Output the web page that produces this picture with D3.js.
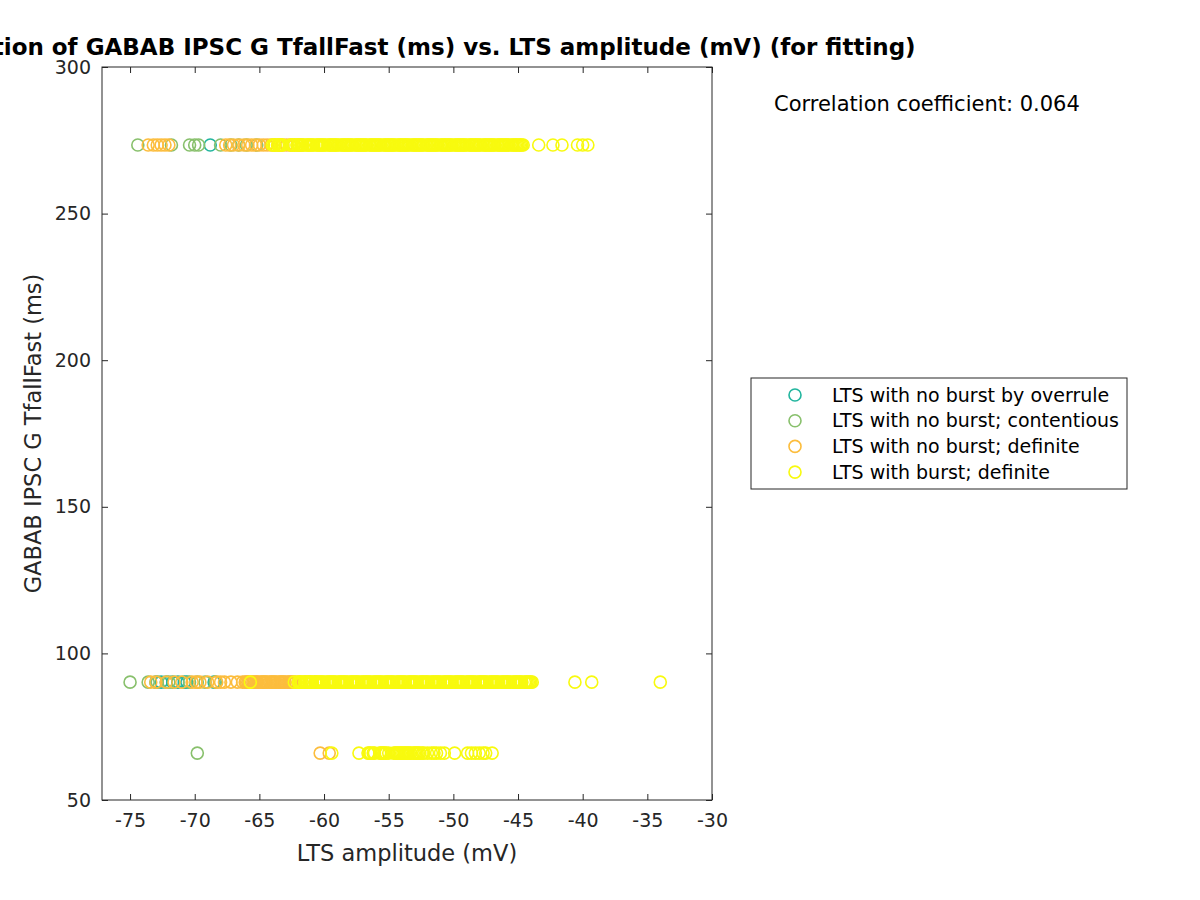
<!DOCTYPE html>
<html><head><meta charset="utf-8">
<script src="https://cdn.jsdelivr.net/npm/d3@7"></script>
<style>body{margin:0;background:#fff;} svg{display:block;font-family:"DejaVu Sans",sans-serif;}</style>
</head><body><svg id="c" width="1200" height="900"></svg>
<script>
// ---- data ----
const seriesNames = ["LTS with no burst by overrule","LTS with no burst; contentious","LTS with no burst; definite","LTS with burst; definite"];
const seriesColors = ["#22b59e","#88c06c","#fcbd3d","#f8fa0e"];
const rowValues = [273.4, 90.2, 66.0];
const xTicks = [-75,-70,-65,-60,-55,-50,-45,-40,-35,-30];
const yTicks = [50,100,150,200,250,300];

// overrule
const overruleX273 = [-68.8];
const overruleX90 = [-73.0,-72.6,-72.2,-71.7,-71.3,-70.8,-70.6,-68.5];
const overruleX66 = [];
// contentious
const contentX273 = [-74.4,-71.8,-70.4,-70.0,-69.7,-68.0,-67.2,-66.6,-66.0,-65.2];
const contentX90 = [-75.0,-73.6,-72.9,-72.0,-70.4,-69.8,-69.2,-68.4];
const contentX66 = [-69.8];
// definite no burst
const definiteX273 = [-73.6,-73.2,-72.9,-72.6,-72.3,-72.0,-67.6,-67.3,-67.0,-66.6,-66.2,-65.9,-65.6,-65.3,-65.0,-64.7,-64.4,-64.1,-63.8,-63.5,-63.2,-62.9,-62.6,-62.3,-62.0,-61.7];
const definiteX90 = [-73.4,-73.0,-72.2,-71.6,-71.0,-70.2,-69.9,-69.6,-69.0,-68.3,-68.0,-67.7,-67.2,-66.7,-66.3,-66.1,-66.0,-65.9,-65.8,-65.6,-65.5,-65.4,-65.3,-65.2,-65.1,-64.9,-64.8,-64.7,-64.6,-64.5,-64.4,-64.2,-64.1,-64.0,-63.9,-63.8,-63.7,-63.5,-63.4,-63.3,-63.2,-63.1,-63.0,-62.8,-62.7,-62.6,-62.5,-62.4,-62.2,-61.9,-61.5,-61.1,-60.7];
const definiteX66 = [-60.3,-59.6];
// burst definite
const burstX273 = [-64.0,-63.9,-63.8,-63.6,-63.5,-63.4,-63.3,-63.2,-62.6,-62.5,-62.4,-62.3,-62.1,-62.0,-61.9,-61.8,-61.7,-61.6,-61.4,-61.3,-61.2,-61.1,-61.0,-60.9,-60.8,-60.6,-60.5,-60.4,-60.3,-60.2,-60.1,-60.0,-59.9,-59.7,-59.6,-59.5,-59.4,-59.3,-59.2,-59.1,-59.0,-58.9,-58.7,-58.6,-58.5,-58.4,-58.3,-58.2,-58.1,-58.0,-57.9,-57.8,-57.6,-57.5,-57.4,-57.3,-57.2,-57.1,-57.0,-56.9,-56.8,-56.7,-56.5,-56.4,-56.3,-56.2,-56.1,-56.0,-55.9,-55.8,-55.7,-55.6,-55.4,-55.3,-55.2,-55.1,-55.0,-54.9,-54.8,-54.7,-54.6,-54.5,-54.3,-54.2,-54.1,-54.0,-53.9,-53.8,-53.7,-53.6,-53.5,-53.4,-53.2,-53.1,-53.0,-52.9,-52.8,-52.7,-52.6,-52.5,-52.4,-52.3,-52.1,-52.0,-51.9,-51.8,-51.7,-51.6,-51.5,-51.4,-51.3,-51.2,-51.0,-50.9,-50.8,-50.7,-50.6,-50.5,-50.4,-50.3,-50.2,-50.1,-49.9,-49.8,-49.7,-49.6,-49.5,-49.4,-49.3,-49.2,-49.1,-49.0,-48.8,-48.7,-48.6,-48.5,-48.4,-48.3,-48.2,-48.1,-48.0,-47.9,-47.7,-47.6,-47.5,-47.4,-47.3,-47.2,-47.1,-47.0,-46.9,-46.8,-46.6,-46.5,-46.4,-46.3,-46.2,-46.1,-46.0,-45.9,-45.8,-45.7,-45.5,-45.4,-45.3,-45.2,-45.1,-45.0,-44.9,-44.8,-44.7,-44.6,-43.4,-42.3,-41.6,-40.4,-40.0,-39.6];
const burstX90 = [-65.7,-62.3,-62.0,-61.9,-61.8,-61.7,-61.5,-61.4,-61.3,-61.2,-61.1,-61.0,-60.9,-60.7,-60.6,-60.5,-60.4,-60.3,-60.2,-60.1,-60.0,-59.8,-59.7,-59.6,-59.5,-59.4,-59.3,-59.2,-59.1,-58.9,-58.8,-58.7,-58.6,-58.5,-58.4,-58.3,-58.2,-58.0,-57.9,-57.8,-57.7,-57.6,-57.5,-57.4,-57.3,-57.1,-57.0,-56.9,-56.8,-56.7,-56.6,-56.5,-56.4,-56.2,-56.1,-56.0,-55.9,-55.8,-55.7,-55.6,-55.5,-55.3,-55.2,-55.1,-55.0,-54.9,-54.8,-54.7,-54.6,-54.4,-54.3,-54.2,-54.1,-54.0,-53.9,-53.8,-53.7,-53.5,-53.4,-53.3,-53.2,-53.1,-53.0,-52.9,-52.8,-52.6,-52.5,-52.4,-52.3,-52.2,-52.1,-52.0,-51.9,-51.7,-51.6,-51.5,-51.4,-51.3,-51.2,-51.1,-51.0,-50.8,-50.7,-50.6,-50.5,-50.4,-50.3,-50.2,-50.1,-49.9,-49.8,-49.7,-49.6,-49.5,-49.4,-49.3,-49.2,-49.0,-48.9,-48.8,-48.7,-48.6,-48.5,-48.4,-48.3,-48.1,-48.0,-47.9,-47.8,-47.7,-47.6,-47.5,-47.4,-47.2,-47.1,-47.0,-46.9,-46.8,-46.7,-46.6,-46.5,-46.3,-46.2,-46.1,-46.0,-45.9,-45.8,-45.7,-45.6,-45.4,-45.3,-45.2,-45.1,-45.0,-44.9,-44.8,-44.7,-44.5,-44.4,-44.3,-44.2,-44.1,-44.0,-43.9,-40.6,-39.3,-34.0];
const burstX66 = [-59.4,-57.3,-56.6,-56.5,-56.4,-56.2,-56.1,-55.7,-55.6,-55.5,-55.4,-55.3,-55.2,-55.0,-54.6,-54.5,-54.4,-54.3,-54.2,-54.1,-54.0,-53.9,-53.8,-53.7,-53.6,-53.5,-53.4,-53.3,-53.1,-53.0,-52.9,-52.8,-52.7,-52.6,-52.4,-52.3,-52.0,-51.7,-51.5,-51.3,-51.0,-50.7,-49.9,-48.9,-48.6,-48.3,-48.0,-47.7,-47.5,-47.0];

const seriesRows = [
  [overruleX273, overruleX90, overruleX66],
  [contentX273, contentX90, contentX66],
  [definiteX273, definiteX90, definiteX66],
  [burstX273, burstX90, burstX66]
];

// ---- layout ----
const svg = d3.select("#c");
const L = 102, R = 712, T = 67, B = 800;
const x = d3.scaleLinear().domain([-77.17, -30]).range([L, R]);
const y = d3.scaleLinear().domain([50, 300]).range([B, T]);
const txt = "#262626";

// points
seriesRows.forEach((rows, si) => {
  const pts = [];
  rows.forEach((xs, ri) => xs.forEach(v => pts.push([v, rowValues[ri]])));
  svg.append("g").selectAll("circle").data(pts).join("circle")
    .attr("cx", d => x(d[0])).attr("cy", d => y(d[1])).attr("r", 6)
    .attr("fill", "none").attr("stroke", seriesColors[si]).attr("stroke-width", 1.6);
});

// axes box
svg.append("rect").attr("x", L).attr("y", T).attr("width", R - L).attr("height", B - T)
  .attr("fill", "none").attr("stroke", txt).attr("stroke-width", 1);

const axB = svg.append("g").attr("transform", `translate(0,${B})`)
  .call(d3.axisBottom(x).tickValues(xTicks).tickSizeInner(-6).tickSizeOuter(0).tickPadding(14).tickFormat(d => String(d)));
const axT = svg.append("g").attr("transform", `translate(0,${T})`)
  .call(d3.axisTop(x).tickValues(xTicks).tickSizeInner(-6).tickSizeOuter(0).tickFormat(""));
const axL = svg.append("g").attr("transform", `translate(${L},0)`)
  .call(d3.axisLeft(y).tickValues(yTicks).tickSizeInner(-6).tickSizeOuter(0).tickPadding(11));
const axR = svg.append("g").attr("transform", `translate(${R},0)`)
  .call(d3.axisRight(y).tickValues(yTicks).tickSizeInner(-6).tickSizeOuter(0).tickFormat(""));
[axB, axT, axL, axR].forEach(a => {
  a.select(".domain").remove();
  a.selectAll("line").attr("stroke", txt);
  a.selectAll("text").attr("fill", txt).attr("font-size", 19).attr("font-family", "DejaVu Sans");
});

// labels
svg.append("text").attr("x", (L + R) / 2).attr("y", 861).attr("text-anchor", "middle")
  .attr("font-size", 22.5).attr("fill", txt).text("LTS amplitude (mV)");
svg.append("text").attr("transform", `translate(41,${(T + B) / 2}) rotate(-90)`).attr("text-anchor", "middle")
  .attr("font-size", 22.5).attr("fill", txt).text("GABAB IPSC G TfallFast (ms)");
svg.append("text").attr("x", (L + R) / 2).attr("y", 55).attr("text-anchor", "middle")
  .attr("font-size", 23).attr("font-weight", "bold").attr("fill", "#000")
  .text("Correlation of GABAB IPSC G TfallFast (ms) vs. LTS amplitude (mV) (for fitting)");
svg.append("text").attr("x", 774).attr("y", 111).attr("font-size", 21).attr("fill", "#000")
  .text("Correlation coefficient: 0.064");

// legend
const lg = svg.append("g");
lg.append("rect").attr("x", 751).attr("y", 378).attr("width", 376).attr("height", 111)
  .attr("fill", "#fff").attr("stroke", txt).attr("stroke-width", 1);
seriesNames.forEach((n, i) => {
  const cy = 395 + i * 25.7;
  lg.append("circle").attr("cx", 795).attr("cy", cy).attr("r", 6).attr("fill", "none")
    .attr("stroke", seriesColors[i]).attr("stroke-width", 1.6);
  lg.append("text").attr("x", 832).attr("y", cy + 6.5).attr("font-size", 19).attr("fill", "#000").text(n);
});
</script></body></html>
